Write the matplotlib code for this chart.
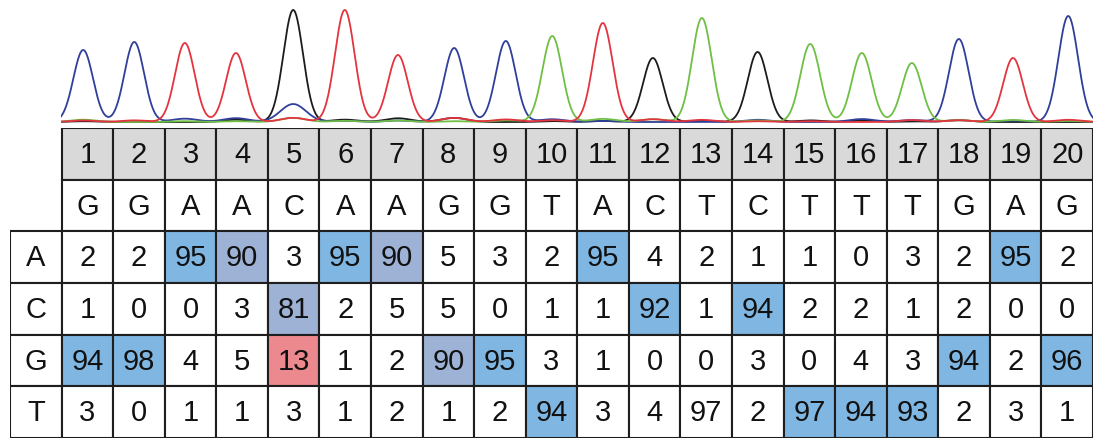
import numpy as np
import matplotlib
matplotlib.use("Agg")
import matplotlib.pyplot as plt
from matplotlib.patches import Rectangle

# ---- data -------------------------------------------------------------
positions = list(range(1, 21))
called = ["G", "G", "A", "A", "C", "A", "A", "G", "G", "T",
          "A", "C", "T", "C", "T", "T", "T", "G", "A", "G"]
row_bases = ["A", "C", "G", "T"]
pct_A = [2, 2, 95, 90, 3, 95, 90, 5, 3, 2, 95, 4, 2, 1, 1, 0, 3, 2, 95, 2]
pct_C = [1, 0, 0, 3, 81, 2, 5, 5, 0, 1, 1, 92, 1, 94, 2, 2, 1, 2, 0, 0]
pct_G = [94, 98, 4, 5, 13, 1, 2, 90, 95, 3, 1, 0, 0, 3, 0, 4, 3, 94, 2, 96]
pct_T = [3, 0, 1, 1, 3, 1, 2, 1, 2, 94, 3, 4, 97, 2, 97, 94, 93, 2, 3, 1]
# cell shading: b = strong call, g = weaker call, r = secondary signal
shade_A = "..bg.bg...b.......b."
shade_C = "....g......b.b......"
shade_G = "bb..r..gb........b.b"
shade_T = ".........b....bbb..."

# trace peak centres (in column units) and peak heights of the called base
peak_pos = [0.43, 1.42, 2.40, 3.39, 4.50, 5.50, 6.53, 7.62, 8.62, 9.52,
            10.50, 11.47, 12.42, 13.50, 14.52, 15.52, 16.49, 17.40, 18.45, 19.52]
peak_height = [72, 80, 79, 69, 112, 112, 67, 74, 81, 86,
               99, 64, 104, 70, 78, 69, 59, 83, 64, 106]

pct = {"A": pct_A, "C": pct_C, "G": pct_G, "T": pct_T}
shade = {"A": shade_A, "C": shade_C, "G": shade_G, "T": shade_T}

trace_color = {"C": "#1c1c1c", "G": "#2f3f9a", "T": "#6fbf45", "A": "#e3343f"}
fill_color = {"b": "#7fb6e2", "g": "#9db2d5", "r": "#ec898e"}
header_fill = "#d9d9d9"
edge = "#1e1e1e"

plt.rcParams["font.family"] = ["Liberation Sans", "DejaVu Sans"]

W, H = 1096, 441
fig = plt.figure(figsize=(W / 100, H / 100), dpi=100)

# ---- table ------------------------------------------------------------
tl, tr, tt, tb = 10, 1093, 128, 438
ax = fig.add_axes([tl / W, (H - tb) / H, (tr - tl) / W, (tb - tt) / H])
ax.set_xlim(-1, 20)
ax.set_ylim(6, 0)
ax.axis("off")

lw = 1.5
fs = 21
n = len(positions)
txt = dict(ha="center", va="center", fontsize=fs, color="#111111")
for j in range(n):
    ax.add_patch(Rectangle((j, 0), 1, 1, facecolor=header_fill, edgecolor=edge, lw=lw))
    ax.text(j + 0.5, 0.52, str(positions[j]), **txt)
    ax.add_patch(Rectangle((j, 1), 1, 1, facecolor="white", edgecolor=edge, lw=lw))
    ax.text(j + 0.5, 1.52, called[j], **txt)

for r, b in enumerate(row_bases):
    y = 2 + r
    ax.add_patch(Rectangle((-1, y), 1, 1, facecolor="white", edgecolor=edge, lw=lw))
    ax.text(-0.5, y + 0.52, b, **txt)
    for j in range(n):
        fc = fill_color.get(shade[b][j], "white")
        ax.add_patch(Rectangle((j, y), 1, 1, facecolor=fc, edgecolor=edge, lw=lw))
        ax.text(j + 0.5, y + 0.52, str(pct[b][j]), **txt)

# ---- chromatogram -----------------------------------------------------
cl, cr, base_px = 61, 1093, 124
cax = fig.add_axes([cl / W, (H - base_px) / H, (cr - cl) / W, base_px / H])
cax.set_xlim(0, 20)
cax.set_ylim(-2, 122)
cax.axis("off")

x = np.linspace(0, 20, 4000)
sigma = 0.19
for b in ["C", "G", "T", "A"]:
    y = np.zeros_like(x)
    for j in range(n):
        main = pct[called[j]][j]
        h = peak_height[j] if called[j] == b else peak_height[j] * pct[b][j] / main
        s = sigma if called[j] == b else sigma * 1.3
        y += h * np.exp(-0.5 * ((x - peak_pos[j]) / s) ** 2)
    cax.plot(x, y, color=trace_color[b], lw=1.3, solid_joinstyle="round")

fig.savefig("out.png", dpi=100)
